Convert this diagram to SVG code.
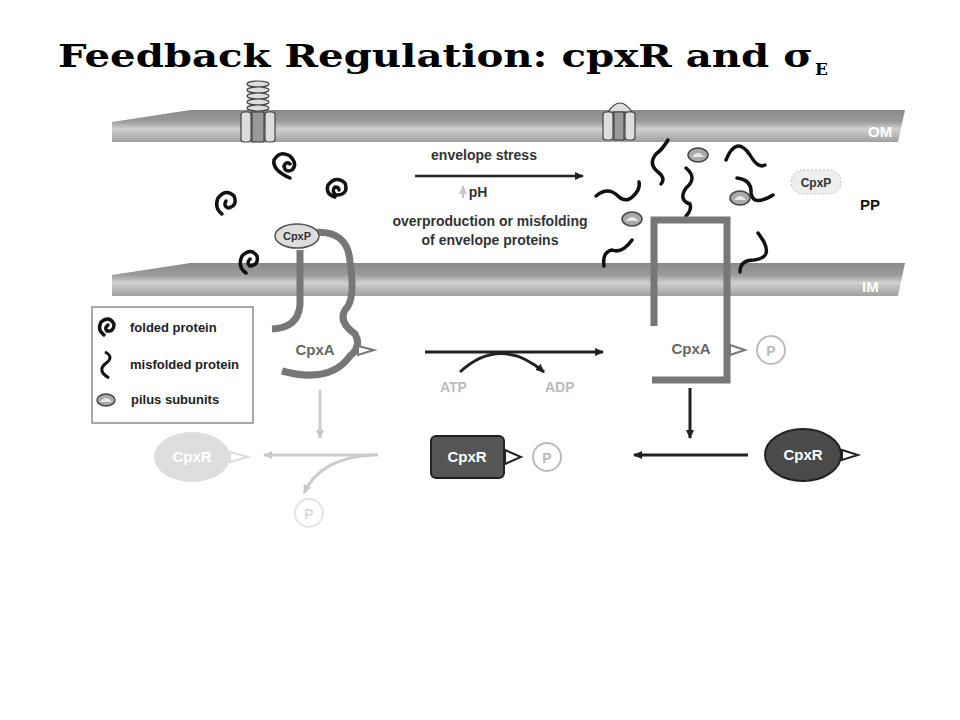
<svg xmlns="http://www.w3.org/2000/svg" width="960" height="720" viewBox="0 0 960 720">
<defs>
<linearGradient id="mem" x1="0" y1="0" x2="0" y2="1">
<stop offset="0" stop-color="#8a8a8a"/><stop offset="0.35" stop-color="#9a9a9a"/><stop offset="0.6" stop-color="#d0d0d0"/><stop offset="1" stop-color="#a0a0a0"/>
</linearGradient>
<marker id="ab" markerWidth="10" markerHeight="10" refX="8" refY="5" orient="auto" markerUnits="userSpaceOnUse"><path d="M0,1 L9,5 L0,9 Z" fill="#222"/></marker>
<marker id="ag" markerWidth="10" markerHeight="10" refX="8" refY="5" orient="auto" markerUnits="userSpaceOnUse"><path d="M0,1 L9,5 L0,9 Z" fill="#c8c8c8"/></marker>
</defs>
<style>
.t{font-family:"Liberation Sans",Arial,sans-serif;font-weight:bold}
.lbl{font-size:14px;fill:#333;text-anchor:middle}
.fold{fill:none;stroke:#111;stroke-width:3.5;stroke-linecap:round}
.cpxa{fill:none;stroke:#777;stroke-width:7}
.pil{fill:#aaa;stroke:#444;stroke-width:1.5}
.ttl{font-family:'DejaVu Serif',serif;font-weight:900}
</style>
<rect width="960" height="720" fill="#fff"/>
<text x="58" y="67" class="ttl" font-size="31" fill="#000" textLength="755" lengthAdjust="spacingAndGlyphs">Feedback Regulation:  cpxR and σ</text>
<text x="815" y="75" class="ttl" font-size="17" fill="#000">E</text>

<g id="membranes">
<path d="M112,122 L190,110 L905,110 L898,142 L112,142 Z" fill="url(#mem)"/>
<path d="M112,275 L190,263 L905,263 L898,296 L112,296 Z" fill="url(#mem)"/>
<text x="868" y="137" class="t" font-size="15" fill="#fff">OM</text>
<text x="862" y="292" class="t" font-size="15" fill="#fff">IM</text>
<text x="860" y="210" class="t" font-size="15" fill="#111">PP</text>
</g>

<g id="channels">
<g fill="#ddd" stroke="#444" stroke-width="1.2">
<ellipse cx="258" cy="84" rx="11" ry="3"/><ellipse cx="258" cy="90" rx="11" ry="3"/><ellipse cx="258" cy="96" rx="11" ry="3"/><ellipse cx="258" cy="102" rx="11" ry="3"/><ellipse cx="258" cy="108" rx="11" ry="3"/>
<rect x="241" y="112" width="10" height="30" rx="3"/><rect x="252" y="112" width="12" height="30" fill="#999"/><rect x="265" y="112" width="10" height="30" rx="3"/>
<path d="M608,112 Q620,94 632,112 Z"/>
<rect x="603" y="112" width="10" height="28" rx="3"/><rect x="614" y="112" width="10" height="28" fill="#999"/><rect x="625" y="112" width="10" height="28" rx="3"/>
</g>
</g>

<g id="folded">
<path class="fold" d="M290,178 q-18,-8 -16,-18 q6,-10 16,-4 q8,8 2,14 q-7,3 -8,-4 q2,-5 6,-2"/>
<path class="fold" d="M222,214 q-8,-6 -4,-16 q8,-10 16,-2 q4,10 -6,12 q-5,-2 -2,-7"/>
<path class="fold" d="M335,197 q-10,-3 -7,-12 q8,-10 17,-2 q4,12 -9,12 q-5,-4 -1,-8 q4,0 4,3"/>
<path class="fold" d="M246,273 q-9,-6 -4,-17 q9,-9 15,0 q2,9 -7,10 q-4,-3 0,-7"/>
</g>

<g id="misfolded">
<g fill="none" stroke="#111" stroke-width="3.5" stroke-linecap="round">
<path d="M668,140 q-6,10 -12,14 q-8,10 2,18 q8,6 3,12"/>
<path d="M596,196 q12,-10 22,0 q10,10 20,-6 q2,-5 1,-8"/>
<path d="M686,168 q12,10 0,20 q-8,12 4,16 q2,6 -4,12"/>
<path d="M726,160 q10,-25 24,-5 q8,14 15,10"/>
<path d="M737,178 q15,2 14,15 q2,14 22,2"/>
<path d="M604,266 q-2,-14 8,-16 q10,4 20,-10"/>
<path d="M740,272 q0,-12 14,-12 q18,-2 10,-18 q-3,-5 -6,-9"/>
</g>
<g class="pil">
<ellipse cx="698" cy="155" rx="10" ry="7"/><ellipse cx="740" cy="198" rx="10" ry="7"/><ellipse cx="632" cy="219" rx="10" ry="7"/>
</g>
<g fill="#e8e8e8"><path d="M692,157 q6,-8 12,0 Z"/><path d="M734,200 q6,-8 12,0 Z"/><path d="M626,221 q6,-8 12,0 Z"/></g>
</g>

<g id="cpxp">
<rect x="791" y="170" width="50" height="24" rx="12" fill="#eee" stroke="#bbb" stroke-dasharray="2,2"/>
<text x="816" y="187" class="t" font-size="12" fill="#333" text-anchor="middle">CpxP</text>
</g>

<g id="stress-text">
<text x="484" y="160" class="t lbl">envelope stress</text>
<text x="478" y="197" class="t lbl">pH</text>
<path d="M463,198 L463,186" stroke="#999" stroke-width="1.2" marker-end="url(#ag)"/>
<text x="490" y="226" class="t lbl">overproduction or misfolding</text>
<text x="490" y="245" class="t lbl">of envelope proteins</text>
</g>

<g id="cpxa-left">
<path class="cpxa" d="M300,250 L300,305 Q298,328 272,329"/>
<path class="cpxa" d="M310,233 Q348,228 350,262 Q356,300 345,310 Q338,322 355,334 Q362,346 350,356 Q330,384 282,371"/>
<ellipse cx="297" cy="236" rx="22" ry="12" fill="#ddd" stroke="#555" stroke-width="1.5"/>
<text x="297" y="240" class="t" font-size="11" fill="#333" text-anchor="middle">CpxP</text>
<text x="315" y="355" class="t" font-size="15" fill="#666" text-anchor="middle">CpxA</text>
<path d="M358,346 L374,350 L358,355 Z" fill="#fff" stroke="#777" stroke-width="2"/>
</g>

<g id="cpxa-right">
<path class="cpxa" d="M654,326 L654,220 L727,220 L727,380 L652,380"/>
<text x="691" y="354" class="t" font-size="15" fill="#666" text-anchor="middle">CpxA</text>
<path d="M730,345 L745,350 L730,355 Z" fill="#fff" stroke="#777" stroke-width="2"/>
<circle cx="771" cy="350" r="14" fill="#fff" stroke="#bbb" stroke-width="2"/>
<text x="771" y="356" class="t" font-size="14" fill="#bbb" text-anchor="middle" font-weight="normal">P</text>
</g>

<g id="legend">
<rect x="92" y="307" width="161" height="116" fill="#fff" stroke="#555"/>
<path class="fold" d="M104,335 q-7,-5 -3,-13 q8,-7 13,2 q0,8 -7,7 q-3,-3 1,-6"/>
<path d="M105,352 q10,5 0,12 q-8,7 4,14" fill="none" stroke="#111" stroke-width="3"/>
<ellipse cx="106" cy="400" rx="9" ry="6" class="pil"/><path d="M100,402 q6,-8 12,0 Z" fill="#e8e8e8"/>
<g class="t" font-size="13" fill="#222"><text x="130" y="332">folded protein</text><text x="130" y="369">misfolded protein</text><text x="131" y="404">pilus subunits</text></g>
</g>

<g id="cpxr-grey">
<ellipse cx="192" cy="457" rx="38" ry="25" fill="#ddd"/>
<text x="192" y="462" class="t" font-size="15" fill="#fff" text-anchor="middle">CpxR</text>
<path d="M230,452 L248,457 L230,462 Z" fill="#fff" stroke="#ddd" stroke-width="2"/>
<circle cx="309" cy="513" r="14" fill="#fff" stroke="#e4e4e4" stroke-width="2"/>
<text x="309" y="519" class="t" font-size="14" fill="#ddd" text-anchor="middle" font-weight="normal">P</text>
</g>

<g id="cpxr-p">
<rect x="431" y="436" width="73" height="42" rx="5" fill="#555" stroke="#222" stroke-width="2"/>
<text x="467" y="462" class="t" font-size="15" fill="#fff" text-anchor="middle">CpxR</text>
<path d="M505,450 L521,457 L505,464 Z" fill="#fff" stroke="#222" stroke-width="2"/>
<circle cx="547" cy="457" r="14" fill="#fff" stroke="#bbb" stroke-width="2"/>
<text x="547" y="463" class="t" font-size="14" fill="#bbb" text-anchor="middle" font-weight="normal">P</text>
</g>

<g id="cpxr-dark">
<ellipse cx="803" cy="455" rx="38" ry="26" fill="#4a4a4a" stroke="#222" stroke-width="2"/>
<text x="803" y="460" class="t" font-size="15" fill="#fff" text-anchor="middle">CpxR</text>
<path d="M842,450 L858,455 L842,460 Z" fill="#fff" stroke="#222" stroke-width="2"/>
</g>

<g id="connectors" fill="none">
<path d="M415,176 L583,176" stroke="#222" stroke-width="2.5" marker-end="url(#ab)"/>
<path d="M425,352 L603,352" stroke="#222" stroke-width="3" marker-end="url(#ab)"/>
<path d="M460,372 Q500,335 544,372" stroke="#222" stroke-width="3" marker-end="url(#ab)"/>
<path d="M320,390 L320,438" stroke="#ccc" stroke-width="3" marker-end="url(#ag)"/>
<path d="M378,455 L264,455" stroke="#ccc" stroke-width="3" marker-end="url(#ag)"/>
<path d="M372,455 Q320,458 304,493" stroke="#ccc" stroke-width="3" marker-end="url(#ag)"/>
<path d="M690,388 L690,438" stroke="#222" stroke-width="3" marker-end="url(#ab)"/>
<path d="M748,455 L634,455" stroke="#222" stroke-width="3" marker-end="url(#ab)"/>
<text x="440" y="392" class="t" font-size="14" fill="#bbb" font-weight="normal">ATP</text>
<text x="545" y="392" class="t" font-size="14" fill="#bbb" font-weight="normal">ADP</text>
</g>
</svg>
